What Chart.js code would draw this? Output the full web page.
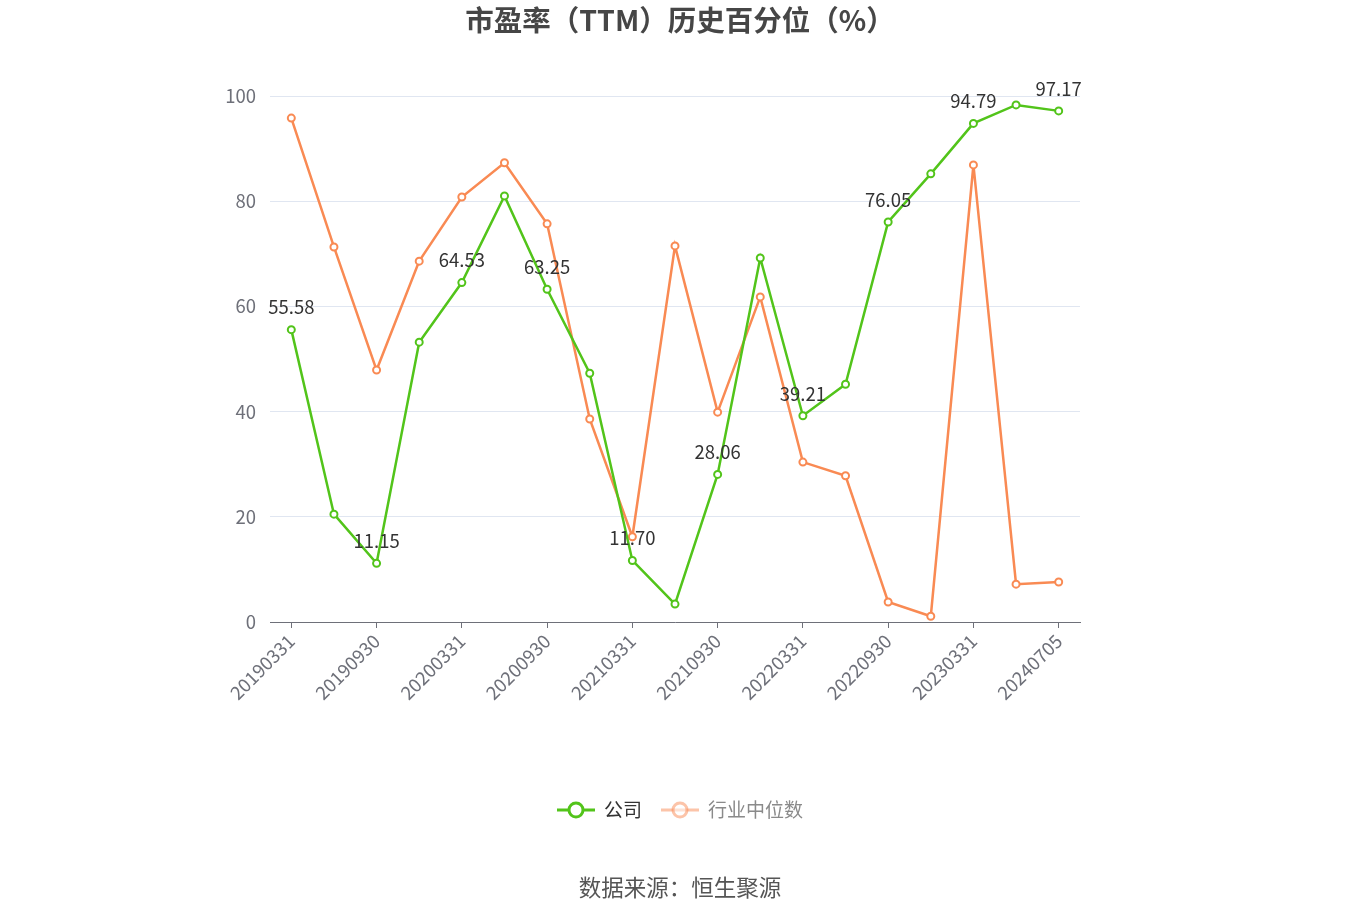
<!DOCTYPE html>
<html>
<head>
<meta charset="utf-8">
<script src="https://cdn.jsdelivr.net/npm/chart.js@4/dist/chart.umd.min.js"></script>
<style>
  body { margin: 0; background: #fff; }
  #wrap { width: 1360px; height: 920px; }
</style>
</head>
<body>
<div id="wrap"><canvas id="peChart" width="1360" height="920"></canvas></div>
<script>
const dates = ['20190331', '20190630', '20190930', '20191231', '20200331', '20200630', '20200930',
    '20201231', '20210331', '20210630', '20210930', '20211231', '20220331', '20220630', '20220930',
    '20221231', '20230331', '20231231', '20240705'];
const companyValues = [55.58, 20.5, 11.15, 53.2, 64.53, 81.0, 63.25, 47.3, 11.70, 3.4, 28.06, 69.2,
    39.21, 45.2, 76.05, 85.2, 94.79, 98.3, 97.17];
const industryValues = [95.8, 71.3, 47.9, 68.6, 80.8, 87.3, 75.7, 38.6, 16.2, 71.5, 39.9, 61.8,
    30.4, 27.8, 3.8, 1.1, 86.9, 7.2, 7.6];
const yTicks = [0, 20, 40, 60, 80, 100];

const titleText = '市盈率（TTM）历史百分位（%）';
const sourceText = '数据来源：恒生聚源';
const FONT = '"Noto Sans CJK SC", "Noto Sans", sans-serif';

const green = '#52c41a';
const orange = '#f98a53';

// title, point labels, legend and source line
const decorPlugin = {
    id: 'decor',
    afterDatasetsDraw(chart) {
        const c = chart.ctx;
        const meta = chart.getDatasetMeta(0);
        c.save();
        c.font = '18.5px ' + FONT;
        c.fillStyle = '#333';
        c.textAlign = 'center';
        c.textBaseline = 'bottom';
        meta.data.forEach((pt, i) => {
            if (i % 2 !== 0) return;
            c.fillText(companyValues[i].toFixed(2), pt.x, pt.y - 13);
        });
        c.restore();
    },
    afterDraw(chart) {
        const c = chart.ctx;
        c.save();
        c.textAlign = 'center';
        c.textBaseline = 'middle';
        c.font = 'bold 28.5px ' + FONT;
        c.fillStyle = '#464646';
        c.fillText(titleText, 680, 20);

        c.font = '22.5px ' + FONT;
        c.fillStyle = '#555';
        c.fillText(sourceText, 680, 887);

        // legend
        const items = [
            { x: 557, label: '公司', color: green, text: '#333', alpha: 1 },
            { x: 661, label: '行业中位数', color: orange, text: '#8a8a8a', alpha: 0.5 }
        ];
        items.forEach(it => {
            const cy = 810;
            c.globalAlpha = it.alpha;
            c.strokeStyle = it.color;
            c.lineWidth = 3;
            c.beginPath();
            c.moveTo(it.x, cy);
            c.lineTo(it.x + 38, cy);
            c.stroke();
            c.beginPath();
            c.arc(it.x + 19, cy, 7, 0, Math.PI * 2);
            c.fillStyle = '#fff';
            c.fill();
            c.stroke();
            c.globalAlpha = 1;
            c.textAlign = 'left';
            c.fillStyle = it.text;
            c.font = '19px ' + FONT;
            c.fillText(it.label, it.x + 47, cy);
        });
        c.restore();
    }
};

const ctx = document.getElementById('peChart').getContext('2d');
new Chart(ctx, {
    type: 'line',
    data: {
        labels: dates,
        datasets: [
            {
                label: '公司',
                data: companyValues,
                borderColor: green,
                backgroundColor: '#fff',
                borderWidth: 2.5,
                pointRadius: 3.5,
                pointBorderWidth: 2,
                pointBackgroundColor: '#fff',
                pointBorderColor: green,
                tension: 0
            },
            {
                label: '行业中位数',
                data: industryValues,
                borderColor: orange,
                backgroundColor: '#fff',
                borderWidth: 2.5,
                pointRadius: 3.5,
                pointBorderWidth: 2,
                pointBackgroundColor: '#fff',
                pointBorderColor: orange,
                tension: 0
            }
        ]
    },
    options: {
        responsive: false,
        animation: false,
        layout: { padding: { left: 200, right: 280, top: 96, bottom: 198 } },
        plugins: {
            legend: { display: false },
            title: { display: false },
            tooltip: { enabled: false }
        },
        scales: {
            x: {
                offset: true,
                afterFit(scale) { scale.height = 100; },
                grid: {
                    offset: false,
                    drawOnChartArea: false,
                    drawTicks: true,
                    tickLength: 6,
                    color: '#6e7079'
                },
                border: { display: true, color: '#6e7079', width: 1 },
                ticks: {
                    autoSkip: false,
                    minRotation: 45,
                    maxRotation: 45,
                    padding: 2,
                    color: '#6e7079',
                    font: { size: 18.5, family: FONT },
                    callback(val, i) { return i % 2 === 0 ? dates[i] : null; }
                }
            },
            y: {
                min: 0,
                max: 100,
                afterFit(scale) { scale.width = 70; },
                afterBuildTicks(scale) { scale.ticks = yTicks.map(v => ({ value: v })); },
                grid: { color: '#e0e6f1', drawTicks: false },
                border: { display: false },
                ticks: {
                    padding: 14,
                    color: '#6e7079',
                    font: { size: 18.5, family: FONT }
                }
            }
        }
    },
    plugins: [decorPlugin]
});
</script>
</body>
</html>
